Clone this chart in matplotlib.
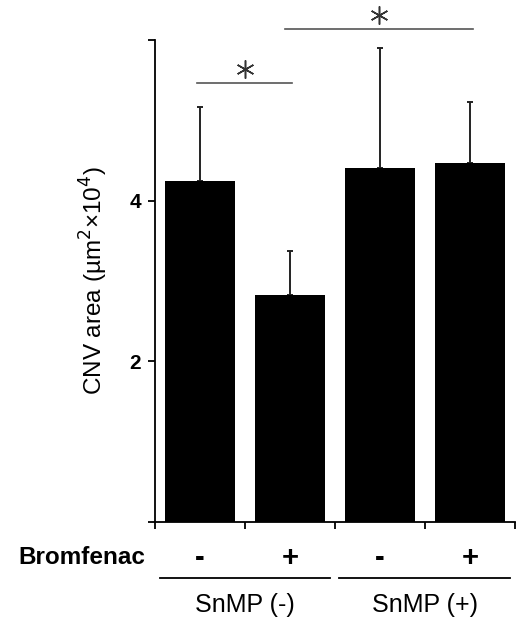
import numpy as np
import matplotlib.pyplot as plt

plt.rcParams['font.family'] = ['Liberation Sans', 'DejaVu Sans']

# data
bromfenac = ['-', '+', '-', '+']
groups = ['SnMP (-)', 'SnMP (+)']
means = [4.24, 2.82, 4.40, 4.47]
err_up = [0.92, 0.55, 1.50, 0.76]
yticks = [0, 2, 4, 6]
ytick_labels = ['', '2', '4', '']
# significance brackets: (x start, x end, height)
sig = [(0.47, 1.52, 5.47), (1.44, 3.53, 6.14)]

fig = plt.figure(figsize=(5.16, 6.2), dpi=100)
ax = fig.add_axes([0.3004, 0.1585, 0.6976, 0.777])

x = np.arange(len(means)) + 0.5
ax.bar(x, means, width=0.78, color='black', zorder=2)
ax.errorbar(x, means, yerr=[np.zeros(len(means)), err_up], fmt='none',
            ecolor='#222222', elinewidth=1.4, capsize=2.5, capthick=1.4, zorder=1)

ax.set_xlim(0, 4)
ax.set_ylim(0, 6)
ax.set_xticks([0, 1, 2, 3, 4])
ax.set_xticklabels([])
ax.set_yticks(yticks)
ax.set_yticklabels(ytick_labels, fontsize=15, fontweight='bold')
ax.tick_params(axis='both', direction='out', length=5, width=1.3, pad=5)
for s in ['top', 'right']:
    ax.spines[s].set_visible(False)
for s in ['left', 'bottom']:
    ax.spines[s].set_linewidth(1.3)

ax.set_ylabel('CNV area (µm$^2$×10$^4$)', fontsize=17.5, labelpad=14)

# significance lines and stars
for x0, x1, h in sig:
    ax.plot([x0, x1], [h, h], color='#555555', lw=1.2, clip_on=False)
    ax.plot((x0 + x1) / 2, h + 0.17, marker=(6, 2, 0), ms=13, mew=1.1,
            color='#333333', clip_on=False)

# bromfenac row and group labels below the axis
tr = ax.get_xaxis_transform()
ax.text(-0.11, -0.075, 'Bromfenac', transform=tr, ha='right', va='center',
        fontsize=17.5, fontweight='bold')
for xi, s in zip(x, bromfenac):
    ax.text(xi, -0.075, s, transform=tr, ha='center', va='center',
            fontsize=21, fontweight='bold')
for i, g in enumerate(groups):
    ax.plot([0.05 + 2 * i, 1.95 + 2 * i], [-0.117, -0.117], transform=tr,
            color='black', lw=1.3, clip_on=False)
    ax.text(1 + 2 * i, -0.173, g, transform=tr, ha='center', va='center',
            fontsize=18)

fig.savefig('out.png', dpi=100)
